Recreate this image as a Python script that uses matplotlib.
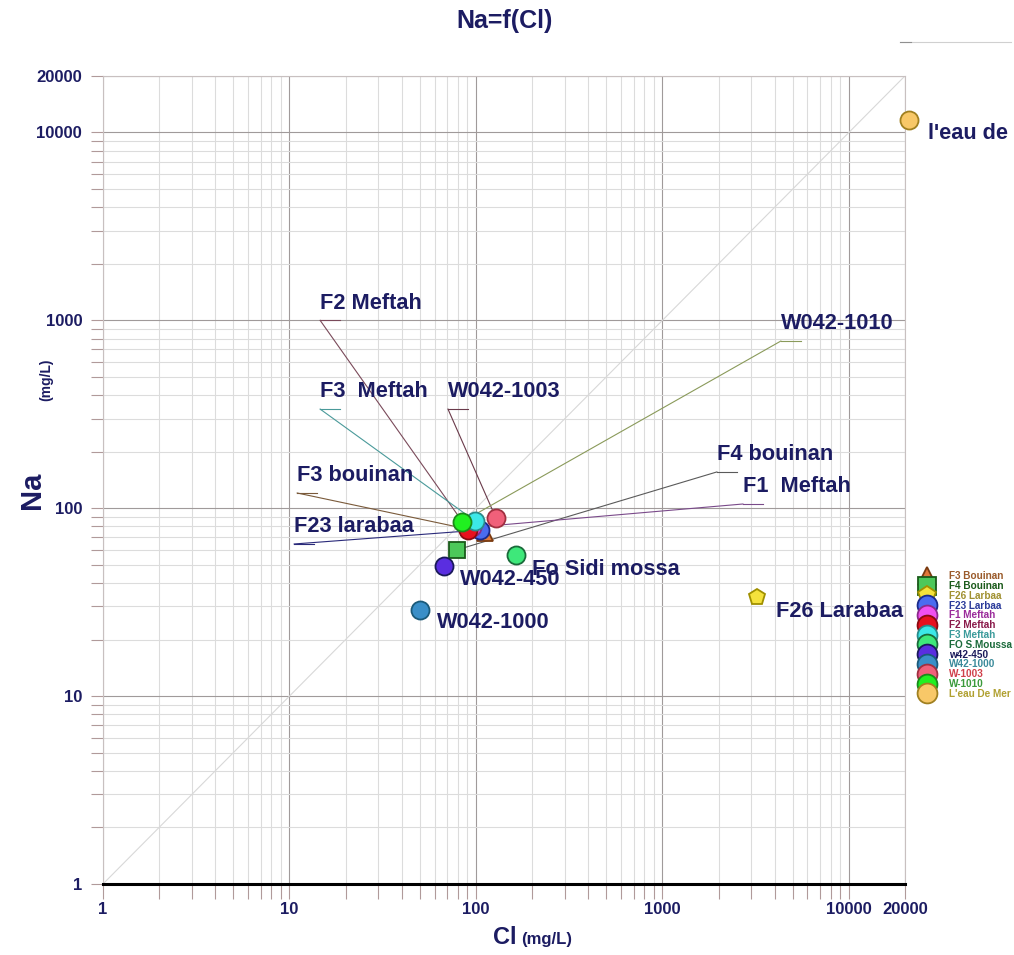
import matplotlib
matplotlib.use('Agg')
import matplotlib.pyplot as plt
from matplotlib.lines import Line2D

plt.rcParams['font.family'] = ['Liberation Sans', 'DejaVu Sans']
plt.rcParams['font.weight'] = 'bold'

# concentrations en mg/L
noms = ['F3 Bouinan', 'F4 Bouinan', 'F26 Larbaa', 'F23 Larbaa', 'F1 Meftah', 'F2 Meftah',
        'F3 Meftah', 'FO S.Moussa', 'w42-450', 'W42-1000', 'W-1003', 'W-1010', "L'eau De Mer"]
cl = [112, 79, 3210, 105, 95, 91, 99, 164, 67, 50, 128, 84, 21000]
na = [74, 60, 33.7, 76.5, 79, 76.5, 85.5, 56.4, 49.3, 28.7, 88.7, 84.5, 11600]

marqueurs = ['^', 's', 'p', 'o', 'o', 'o', 'o', 'o', 'o', 'o', 'o', 'o', 'o']
remplis = ['#e0783a', '#4cc85a', '#f5e23c', '#4a6cf0', '#f050f0', '#e8101e', '#3ce8e8',
           '#3ee87a', '#5a2ee0', '#3a8fc8', '#f0607a', '#20f020', '#f8c868']
bords = ['#7a3a10', '#1a5a1a', '#a09000', '#1a2a8a', '#8a2a8a', '#8a0a10', '#2a8a8a',
         '#1a6a3a', '#1a1a5a', '#1a5a7a', '#a03040', '#1a8a1a', '#a08020']
couleurs_texte = ['#9a5a2a', '#1a5a1a', '#a09030', '#2a3a9a', '#9a2a9a', '#8a1a4a', '#3a9a9a',
                  '#1a6a3a', '#1a1a5a', '#3a8a9a', '#d0404a', '#3a9a3a', '#b0a030']

# étiquettes avec trait de rappel : (texte, indice du point, x, y du départ du trait, couleur)
etiq_traits = [
    ('F2 Meftah', 5, 14.6, 1000, '#7a4a5a'),
    ('F3  Meftah', 6, 14.6, 337, '#4a9a9a'),
    ('W042-1003', 10, 70.8, 337, '#6a3a4a'),
    ('F3 bouinan', 0, 11.0, 120.5, '#7a5a3a'),
    ('F23 larabaa', 3, 10.6, 64.5, '#2a2a7a'),
    ('W042-1010', 11, 4318, 776, '#8a9a5a'),
    ('F4 bouinan', 1, 1960, 156, '#5a5a5a'),
    ('F1  Meftah', 4, 2703, 105.3, '#7a4a8a'),
]
# étiquettes simples : (texte, x, y de la ligne de base)
etiq_simples = [
    ('Fo Sidi mossa', 200, 44.1),
    ('W042-450', 82.1, 39.0),
    ('W042-1000', 61.8, 23.0),
    ('F26 Larabaa', 4062, 26.4),
    ("l'eau de", 26520, 9225),
]

bleu = '#1c1c62'

fig = plt.figure(figsize=(10.14, 9.55), dpi=100)
ax = fig.add_axes([0.1016, 0.0744, 0.7909, 0.8461])
ax.set_xscale('log')
ax.set_yscale('log')
ax.set_xlim(1, 20000)
ax.set_ylim(1, 20000)

ax.grid(True, which='major', color='#a09a9a', linewidth=0.8)
ax.grid(True, which='minor', color='#dcdcdc', linewidth=0.8)
ax.set_axisbelow(True)

# droite 1:1
ax.plot([1, 20000], [1, 20000], color='#d8d8d8', linewidth=0.8, zorder=1)

# traits de rappel
for txt, i, xa, ya, c in etiq_traits:
    ax.plot([xa, cl[i]], [ya, na[i]], color=c, linewidth=0.8, zorder=2)
    ax.plot([xa, xa * 1.28], [ya, ya], color=c, linewidth=0.8, zorder=2)
    ax.annotate(txt, xy=(xa, ya), xytext=(0, 8.5), textcoords='offset points',
                ha='left', va='baseline', fontsize=15.7, fontweight='bold', color=bleu)

for txt, x, y in etiq_simples:
    ax.text(x, y, txt, ha='left', va='baseline', fontsize=15.7, fontweight='bold',
            color=bleu, clip_on=False)

for i in range(len(noms)):
    ms = 13 if marqueurs[i] == 'o' else 12
    ax.plot(cl[i], na[i], marker=marqueurs[i], markersize=ms, markerfacecolor=remplis[i],
            markeredgecolor=bords[i], markeredgewidth=1.3, linestyle='none',
            label=noms[i], zorder=3 + i, clip_on=False)

for s in ['left', 'top', 'right']:
    ax.spines[s].set_color('#c8c0c0')
    ax.spines[s].set_linewidth(0.8)
ax.spines['bottom'].set_color('black')
ax.spines['bottom'].set_linewidth(2.2)

ax.tick_params(which='both', direction='out', length=9, color='#b09a9a', width=0.8)
ax.tick_params(axis='x', which='both', length=11)
ax.set_xticks([1, 10, 100, 1000, 10000, 20000])
ax.set_xticklabels(['1', '10', '100', '1000', '10000', '20000'])
ax.set_yticks([1, 10, 100, 1000, 10000, 20000])
ax.set_yticklabels(['1', '10', '100', '1000', '10000', '20000'])
for lab in ax.get_xticklabels() + ax.get_yticklabels():
    lab.set_fontsize(12)
    lab.set_fontweight('bold')
    lab.set_color(bleu)
ax.tick_params(axis='x', pad=2)
ax.tick_params(axis='y', pad=6)

fig.text(0.498, 0.978, 'Na=f(Cl)', ha='center', va='center', fontsize=18, fontweight='bold', color=bleu)
fig.text(0.032, 0.487, 'Na', ha='center', va='center', rotation=90, fontsize=21,
         fontweight='bold', color=bleu)
fig.text(0.0454, 0.602, '(mg/L)', ha='center', va='center', rotation=90, fontsize=10,
         fontweight='bold', color=bleu)
fig.text(0.509, 0.012, 'Cl', ha='right', va='baseline', fontsize=17, fontweight='bold', color=bleu)
fig.text(0.514, 0.012, '(mg/L)', ha='left', va='baseline', fontsize=12, fontweight='bold', color=bleu)

# petit trait en haut à droite
fig.add_artist(Line2D([0.888, 0.997], [0.956, 0.956], color='#d0d0d0', linewidth=0.8))
fig.add_artist(Line2D([0.888, 0.898], [0.956, 0.956], color='#909090', linewidth=0.8))

leg = ax.legend(loc='upper left', bbox_to_anchor=(1.016, 0.392), frameon=False,
                fontsize=7.2, labelspacing=-0.02, handlelength=1.0, handletextpad=1.7,
                borderaxespad=0, markerscale=1.1)
for t, c in zip(leg.get_texts(), couleurs_texte):
    t.set_color(c)
    t.set_fontweight('bold')

fig.savefig('out.png', dpi=100)
